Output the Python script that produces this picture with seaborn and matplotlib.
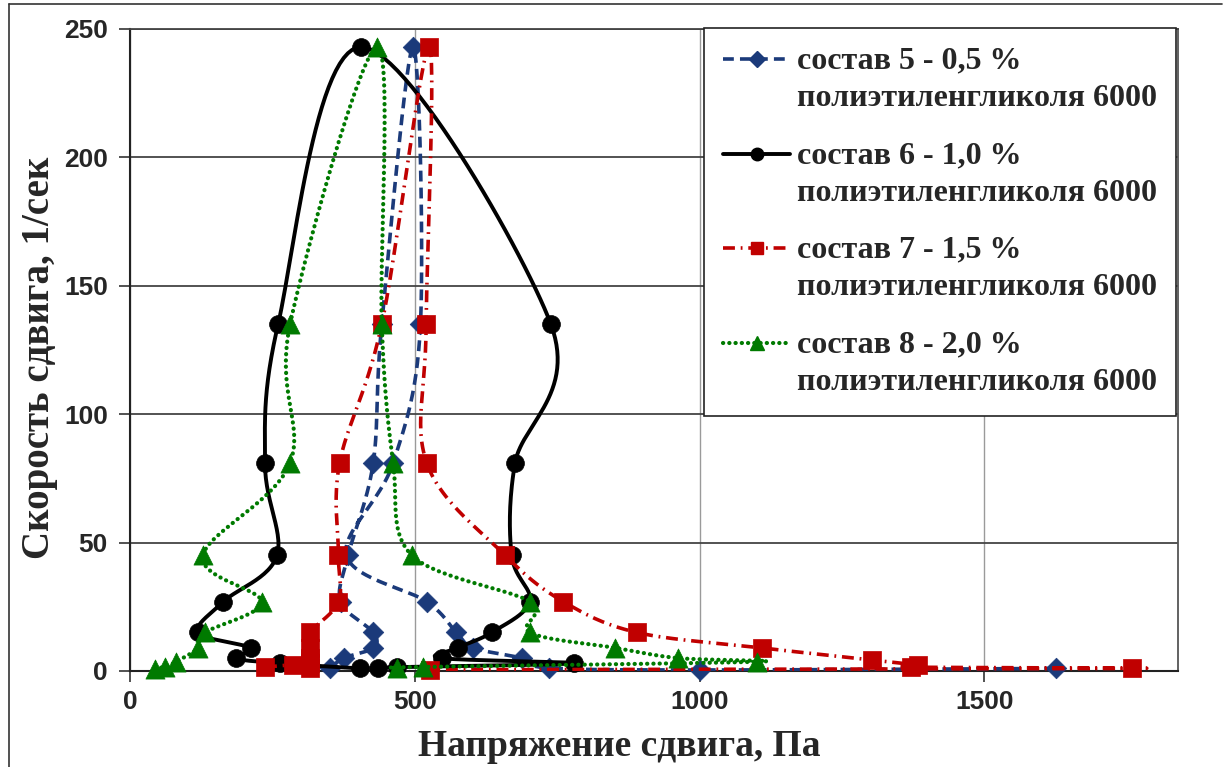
import numpy as np
import pandas as pd
import matplotlib
matplotlib.use("Agg")
import matplotlib.pyplot as plt
import matplotlib.transforms as mtransforms
import seaborn as sns
from matplotlib.lines import Line2D
from matplotlib.legend_handler import HandlerLine2D

# Shear-rate (1/s) and shear-stress (Pa) readings for each composition,
# listed in the order the loop was measured (ramp up, then ramp down).
rate_5 = [1.0, 5, 9, 15, 27, 45, 81, 135, 243, 135, 81, 45, 27, 15, 9, 5, 1.2, 0.4, 1.0]
stress_5 = [351, 375, 427, 427, 370, 383, 427, 442, 497, 510, 462, 380, 521, 573, 603, 688, 735, 1001, 1626]

rate_6 = [1.0, 3, 5, 9, 15, 27, 45, 81, 135, 243, 135, 81, 45, 27, 15, 9, 5, 3, 1.5, 1.0]
stress_6 = [404, 263, 186, 212, 120, 164, 258, 237, 260, 406, 739, 676, 670, 702, 635, 575, 547, 779, 468, 436]

rate_7 = [1.5, 2.3, 1, 3, 5, 9, 15, 27, 45, 81, 135, 243, 135, 81, 45, 27, 15, 9, 4.3, 2.3, 1.5, 1.0, 0.5]
stress_7 = [237, 287, 316, 316, 316, 316, 316, 366, 366, 368, 442, 525, 520, 521, 659, 761, 890, 1109, 1302, 1384, 1371, 1759, 527]

rate_8 = [0.6, 1.7, 3.5, 9, 15, 27, 45, 81, 135, 243, 135, 81, 45, 27, 15, 9, 5, 3.6, 1.6, 1.2]
stress_8 = [44, 61, 80, 120, 132, 231, 128, 281, 281, 434, 442, 462, 495, 702, 702, 852, 963, 1100, 515, 469]

labels = [
    "состав 5 - 0,5 %\nполиэтиленгликоля 6000",
    "состав 6 - 1,0 %\nполиэтиленгликоля 6000",
    "состав 7 - 1,5 %\nполиэтиленгликоля 6000",
    "состав 8 - 2,0 %\nполиэтиленгликоля 6000",
]
x_ticks = [0, 500, 1000, 1500]
y_ticks = [0, 50, 100, 150, 200, 250]
x_label = "Напряжение сдвига, Па"
y_label = "Скорость сдвига, 1/сек"

X_MAX, Y_MAX = 1840, 250

sns.set_style("white")
plt.rcParams["font.family"] = ["Liberation Serif", "DejaVu Serif"]

W, H = 1226, 767
fig = plt.figure(figsize=(W / 100, H / 100), dpi=100)
ax_l, ax_r, ax_t, ax_b = 130, 1178, 29, 671
ax = fig.add_axes([ax_l / W, 1 - ax_b / H, (ax_r - ax_l) / W, (ax_b - ax_t) / H])

# scale factors so the smoothing works in screen-proportional space
SX = (ax_r - ax_l) / X_MAX
SY = (ax_b - ax_t) / Y_MAX


def smooth_path(xs, ys, steps=30):
    """Cubic Bezier smoothing through every point (spreadsheet-style smoothed line)."""
    P = np.column_stack([np.asarray(xs, float) * SX, np.asarray(ys, float) * SY])
    n = len(P)
    out = []
    t = np.linspace(0, 1, steps)[:, None]
    for i in range(n - 1):
        p0 = P[i - 1] if i > 0 else P[i]
        p1, p2 = P[i], P[i + 1]
        p3 = P[i + 2] if i + 2 < n else P[i + 1]
        c1 = p1 + (p2 - p0) / 6.0
        c2 = p2 - (p3 - p1) / 6.0
        seg = ((1 - t) ** 3) * p1 + 3 * ((1 - t) ** 2) * t * c1 + 3 * (1 - t) * t ** 2 * c2 + t ** 3 * p2
        out.append(seg if i == 0 else seg[1:])
    S = np.vstack(out)
    return S[:, 0] / SX, S[:, 1] / SY


class FirstLineHandler(HandlerLine2D):
    """Legend handle aligned with the first line of a two-line label."""

    def __init__(self, shift_pt, **kw):
        super().__init__(**kw)
        self.shift_pt = shift_pt

    def create_artists(self, legend, orig_handle, xdescent, ydescent, width, height,
                       fontsize, trans):
        arts = super().create_artists(legend, orig_handle, xdescent, ydescent, width,
                                      height, fontsize, trans)
        off = mtransforms.Affine2D().translate(0, self.shift_pt * legend.figure.dpi / 72.0)
        for a in arts:
            a.set_transform(a.get_transform() + off)
        return arts


series = [
    dict(x=stress_5, y=rate_5, color="#1B3A7A", ls=(0, (3.0, 1.7)), lw=2.6, cap="butt",
         marker="D", s=110, ms=8),
    dict(x=stress_6, y=rate_6, color="#000000", ls="-", lw=2.8, cap="round",
         marker="o", s=165, ms=9),
    dict(x=stress_7, y=rate_7, color="#C00000", ls=(0, (3.3, 1.6, 0.5, 1.6)), lw=2.6, cap="butt",
         marker="s", s=150, ms=8),
    dict(x=stress_8, y=rate_8, color="#007A00", ls=(0, (0.05, 1.45)), lw=3.0, cap="round",
         marker="^", s=190, ms=10),
]

handles = []
for k, sr in enumerate(series):
    cx, cy = smooth_path(sr["x"], sr["y"])
    curve = pd.DataFrame({"stress": cx, "rate": cy})
    sns.lineplot(data=curve, x="stress", y="rate", sort=False, estimator=None, ax=ax,
                 color=sr["color"], linestyle=sr["ls"], linewidth=sr["lw"],
                 dash_capstyle=sr["cap"], solid_capstyle="round", zorder=3 + 2 * k)
    pts = pd.DataFrame({"stress": sr["x"], "rate": sr["y"]})
    sns.scatterplot(data=pts, x="stress", y="rate", ax=ax, marker=sr["marker"], s=sr["s"],
                    color=sr["color"], edgecolor=sr["color"], linewidth=0.5,
                    zorder=4 + 2 * k, clip_on=False)
    handles.append(Line2D([0], [0], color=sr["color"], linestyle=sr["ls"], linewidth=sr["lw"],
                          dash_capstyle=sr["cap"], marker=sr["marker"], markersize=sr["ms"],
                          markerfacecolor=sr["color"], markeredgecolor=sr["color"]))

ax.set_xlim(0, X_MAX)
ax.set_ylim(0, Y_MAX)
ax.set_xticks(x_ticks)
ax.set_yticks(y_ticks)
ax.set_xticklabels([str(v) for v in x_ticks])
ax.set_yticklabels([str(v) for v in y_ticks])

for lab in ax.get_xticklabels() + ax.get_yticklabels():
    lab.set_fontfamily("Liberation Sans")
    lab.set_fontweight("bold")
    lab.set_fontsize(19)

ax.tick_params(axis="y", direction="out", length=8, width=1.2, color="#333333", pad=8, left=True)
ax.tick_params(axis="x", direction="out", length=8, width=1.2, color="#333333", pad=6, bottom=True)

ax.xaxis.grid(True, color="#9a9a9a", linewidth=1.0)
ax.yaxis.grid(True, color="#444444", linewidth=1.3)
ax.set_axisbelow(True)

for side in ["left", "bottom"]:
    ax.spines[side].set_color("#222222")
    ax.spines[side].set_linewidth(1.5)
ax.spines["top"].set_color("#444444")
ax.spines["top"].set_linewidth(1.3)
ax.spines["right"].set_color("#555555")
ax.spines["right"].set_linewidth(1.3)

ax.set_xlabel(x_label, fontsize=27, fontweight="bold", family="Liberation Serif")
ax.set_ylabel(y_label, fontsize=28, fontweight="bold", family="Liberation Serif")
ax.xaxis.set_label_coords((619 - ax_l) / (ax_r - ax_l), -(747 - ax_b) / (ax_b - ax_t), transform=ax.transAxes)
ax.yaxis.set_label_coords(-(ax_l - 40) / (ax_r - ax_l), (ax_b - 358) / (ax_b - ax_t), transform=ax.transAxes)
ax.xaxis.label.set_va("center")
ax.yaxis.label.set_va("center")

leg_fs = 23
leg = ax.legend(handles, labels, loc="upper right", bbox_to_anchor=(0.998, 1.002),
                frameon=True, fancybox=False, framealpha=1, edgecolor="#222222",
                prop=dict(family="Liberation Serif", weight="bold", size=leg_fs),
                handlelength=2.1, handletextpad=0.2, labelspacing=0.88, borderpad=0.6,
                borderaxespad=0.0,
                handler_map={Line2D: FirstLineHandler(shift_pt=0.64 * leg_fs)})
leg.get_frame().set_linewidth(1.2)
for t in leg.get_texts():
    t.set_linespacing(1.38)
leg.set_zorder(20)

# outer chart border
fig.add_artist(Line2D([9 / W, 9 / W], [0, 1 - 4 / H], color="#333333", linewidth=1.2))
fig.add_artist(Line2D([9 / W, 1 - 4 / W], [1 - 4 / H, 1 - 4 / H], color="#333333", linewidth=1.2))

fig.savefig("out.png", dpi=100, facecolor="white")
